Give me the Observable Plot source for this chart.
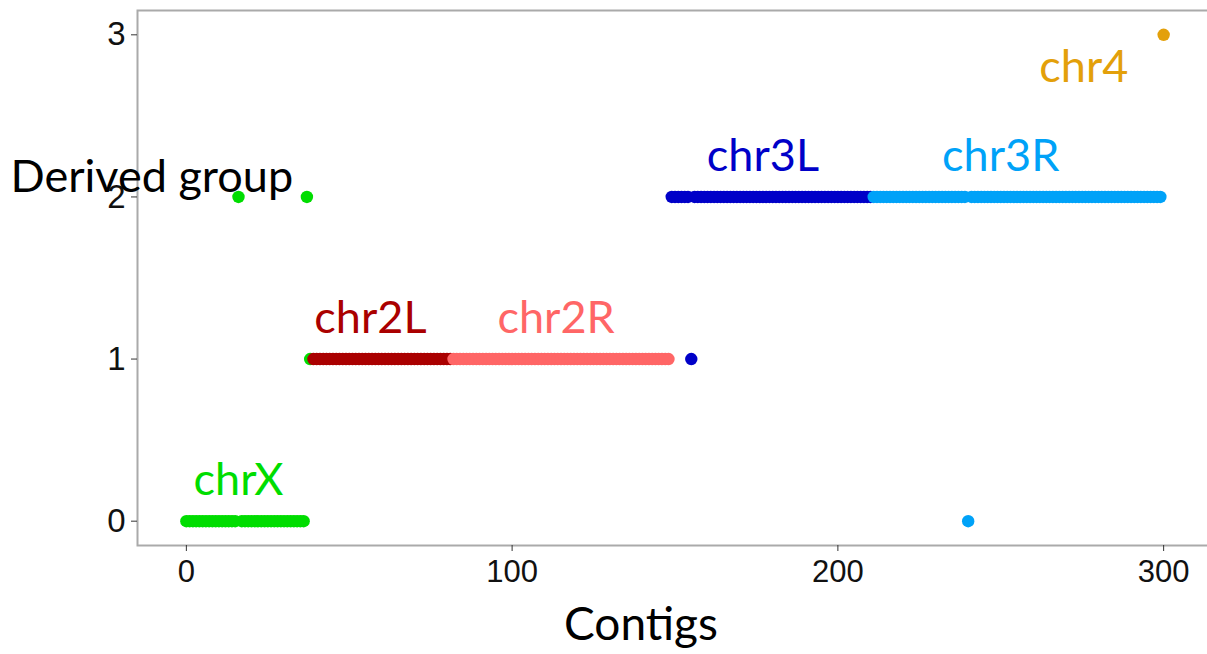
<!DOCTYPE html>
<html>
<head>
<meta charset="utf-8">
<script src="https://cdn.jsdelivr.net/npm/d3@7"></script>
<script src="https://cdn.jsdelivr.net/npm/@observablehq/plot@0.6"></script>
<style>
  html, body { margin: 0; padding: 0; background: #fff; }
</style>
</head>
<body>
<div id="chart"></div>
<script>
// Chromosome arms and their colours
const chroms = ["chrX", "chr2L", "chr2R", "chr3L", "chr3R", "chr4"];
const chromColors = ["#00dd00", "#aa0000", "#ff6666", "#0000c8", "#00a2f8", "#e3a00a"];

// Runs of consecutive contigs: first contig, last contig, derived group, chromosome
const runStart = [0, 16, 17, 37, 38, 39, 82, 149, 155, 156, 211, 240, 241, 300];
const runEnd   = [15, 16, 36, 37, 38, 81, 148, 154, 155, 210, 239, 240, 299, 300];
const runGroup = [0, 2, 0, 2, 1, 1, 1, 2, 1, 2, 2, 0, 2, 3];
const runChrom = ["chrX", "chrX", "chrX", "chrX", "chrX", "chr2L", "chr2R", "chr3L", "chr3L", "chr3L", "chr3R", "chr3R", "chr3R", "chr4"];

// Labels of the chromosome arms (placed in data coordinates)
const labelText = ["chrX", "chr2L", "chr2R", "chr3L", "chr3R", "chr4"];
const labelX = [16, 56.5, 113.5, 177, 250, 275.5];
const labelY = [0.25, 1.25, 1.25, 2.25, 2.25, 2.8];

const xTicks = [0, 100, 200, 300];
const yTicks = [0, 1, 2, 3];

// one point per contig
const points = [];
runStart.forEach((s, i) => {
  for (let c = s; c <= runEnd[i]; c++) points.push({contig: c, group: runGroup[i], chrom: runChrom[i]});
});
const labels = labelText.map((t, i) => ({text: t, x: labelX[i], y: labelY[i]}));

const chart = Plot.plot({
  width: 1207,
  height: 654,
  marginLeft: 137,
  marginRight: -5,
  marginTop: 10,
  marginBottom: 109,
  x: {domain: [-15, 315]},
  y: {domain: [-0.15, 3.15]},
  color: {domain: chroms, range: chromColors},
  marks: [
    Plot.frame({stroke: "#aaaaaa", strokeWidth: 2}),
    Plot.axisX({ticks: xTicks, tickSize: 6, tickPadding: 8, fontSize: 31, fontFamily: "Liberation Sans", label: null, stroke: "#333", color: "#111"}),
    Plot.axisY({ticks: yTicks, tickFormat: d3.format("d"), tickSize: 6, tickPadding: 6, fontSize: 33, fontFamily: "Liberation Sans", label: null, stroke: "#333", color: "#111"}),
    Plot.dot(points, {x: "contig", y: "group", r: 6.2, fill: "chrom", stroke: null}),
    Plot.text(labels, {x: "x", y: "y", text: "text", fill: (d) => chromColors[chroms.indexOf(d.text)], fontSize: 45, fontFamily: "Lato"}),
    Plot.text(["Derived group"], {text: d => d, frameAnchor: "left", textAnchor: "start", dx: -127, dy: -100, fontSize: 45, fontFamily: "Lato", fill: "#000"}),
    Plot.text(["Contigs"], {text: d => d, frameAnchor: "bottom", dx: -34, dy: 94, fontSize: 46, fontFamily: "Lato", fill: "#000"})
  ]
});
document.getElementById("chart").appendChild(chart);
</script>
</body>
</html>
